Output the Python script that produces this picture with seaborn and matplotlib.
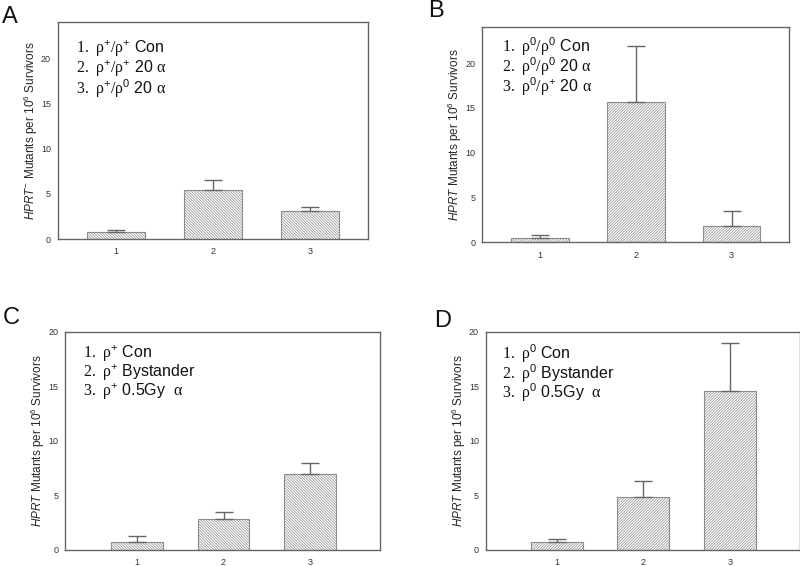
"""
Four-panel HPRT mutant frequency bar charts (A-D).
"""

import numpy as np
import pandas as pd
import matplotlib
matplotlib.use("Agg")
import matplotlib.pyplot as plt
import seaborn as sns

# Data
groups = ["1", "2", "3"]

a_means = [0.75, 5.4, 3.05]
a_errs = [0.28, 1.1, 0.52]
b_means = [0.48, 15.65, 1.86]
b_errs = [0.3, 6.25, 1.64]
c_means = [0.7, 2.84, 6.93]
c_errs = [0.55, 0.61, 1.0]
d_means = [0.7, 4.88, 14.6]
d_errs = [0.33, 1.43, 4.37]

a_legend = [r"$\mathrm{1.\ \rho}^{\mathsf{+}}/\mathrm{\rho}^{\mathsf{+}}$ Con",
            r"$\mathrm{2.\ \rho}^{\mathsf{+}}/\mathrm{\rho}^{\mathsf{+}}$ 20 $\mathrm{\alpha}$",
            r"$\mathrm{3.\ \rho}^{\mathsf{+}}/\mathrm{\rho}^{\mathsf{0}}$ 20 $\mathrm{\alpha}$"]
b_legend = [r"$\mathrm{1.\ \rho}^{\mathsf{0}}/\mathrm{\rho}^{\mathsf{0}}$ Con",
            r"$\mathrm{2.\ \rho}^{\mathsf{0}}/\mathrm{\rho}^{\mathsf{0}}$ 20 $\mathrm{\alpha}$",
            r"$\mathrm{3.\ \rho}^{\mathsf{0}}/\mathrm{\rho}^{\mathsf{+}}$ 20 $\mathrm{\alpha}$"]
c_legend = [r"$\mathrm{1.\ \rho}^{\mathsf{+}}$ Con",
            r"$\mathrm{2.\ \rho}^{\mathsf{+}}$ Bystander",
            r"$\mathrm{3.\ \rho}^{\mathsf{+}}$ 0.5Gy  $\mathrm{\alpha}$"]
d_legend = [r"$\mathrm{1.\ \rho}^{\mathsf{0}}$ Con",
            r"$\mathrm{2.\ \rho}^{\mathsf{0}}$ Bystander",
            r"$\mathrm{3.\ \rho}^{\mathsf{0}}$ 0.5Gy  $\mathrm{\alpha}$"]

ylabel_a = r"$HPRT^{\mathsf{-}}$ Mutants per 10$^{\mathsf{6}}$ Survivors"
ylabel_other = r"$HPRT$ Mutants per 10$^{\mathsf{6}}$ Survivors"

sns.set_style("white")
plt.rcParams["font.family"] = ["Liberation Sans", "DejaVu Sans"]
plt.rcParams["mathtext.fontset"] = "custom"
plt.rcParams["mathtext.rm"] = "Liberation Serif"
plt.rcParams["mathtext.it"] = "Liberation Sans:italic"
plt.rcParams["mathtext.sf"] = "Liberation Sans"
plt.rcParams["mathtext.bf"] = "Liberation Sans:bold"
plt.rcParams["hatch.linewidth"] = 0.5

GRAY = "#666666"


def draw_panel(fig, rect, letter, letter_pos, means, errs, legend, legend_pos,
               ylabel, ylim, yticks, xlim, hatch):
    ax = fig.add_axes(rect)
    df = pd.DataFrame({"group": groups, "value": means})
    sns.barplot(data=df, x="group", y="value", ax=ax, width=0.6,
                color="white", edgecolor="#8c8c8c", linewidth=0.8,
                errorbar=None)
    for p in ax.patches:
        p.set_hatch(hatch)
    x = np.arange(len(groups))
    ax.errorbar(x, means, yerr=[np.zeros(len(errs)), errs], fmt="none",
                ecolor=GRAY, elinewidth=1.0, capsize=6.5, capthick=1.0)
    ax.set_xlim(*xlim)
    ax.set_ylim(*ylim)
    ax.set_yticks(yticks)
    ax.set_xlabel("")
    ax.set_ylabel(ylabel, fontsize=8.5, labelpad=1)
    ax.tick_params(axis="both", direction="out", length=3, width=0.8,
                   color=GRAY, labelsize=6.5, labelcolor="#333333", pad=2)
    ax.tick_params(axis="x", pad=3)
    for s in ax.spines.values():
        s.set_color(GRAY)
        s.set_linewidth(1.0)
    lx, ly0, dy = legend_pos
    for i, t in enumerate(legend):
        ax.text(lx, ly0 - i * dy, t, transform=ax.transAxes, fontsize=11.5,
                va="center", ha="left", color="#111111")
    fig.text(letter_pos[0], letter_pos[1], letter, fontsize=17,
             ha="left", va="top", color="#111111")
    return ax


fig = plt.figure(figsize=(8, 5.66), dpi=100)

draw_panel(fig, [0.0725, 0.5777, 0.3875, 0.3834], "A", (0.003, 0.99),
           a_means, a_errs, a_legend, (0.058, 0.876, 0.092),
           ylabel_a, (0, 24), [0, 5, 10, 15, 20], (-0.6, 2.6), "\\" * 12)
draw_panel(fig, [0.603, 0.5719, 0.3834, 0.3799], "B", (0.535, 1.0),
           b_means, b_errs, b_legend, (0.063, 0.91, 0.092),
           ylabel_other, (0, 24), [0, 5, 10, 15, 20], (-0.6, 2.6), "/" * 12)
draw_panel(fig, [0.0816, 0.0283, 0.3934, 0.3857], "C", (0.003, 0.458),
           c_means, c_errs, c_legend, (0.055, 0.901, 0.088),
           ylabel_other, (0, 20), [0, 5, 10, 15, 20], (-0.83, 2.81), "\\" * 12)
draw_panel(fig, [0.6075, 0.0283, 0.392, 0.3857], "D", (0.543, 0.453),
           d_means, d_errs, d_legend, (0.05, 0.898, 0.088),
           ylabel_other, (0, 20), [0, 5, 10, 15, 20], (-0.815, 2.8), "/" * 12)

fig.savefig("out.png", dpi=100)
